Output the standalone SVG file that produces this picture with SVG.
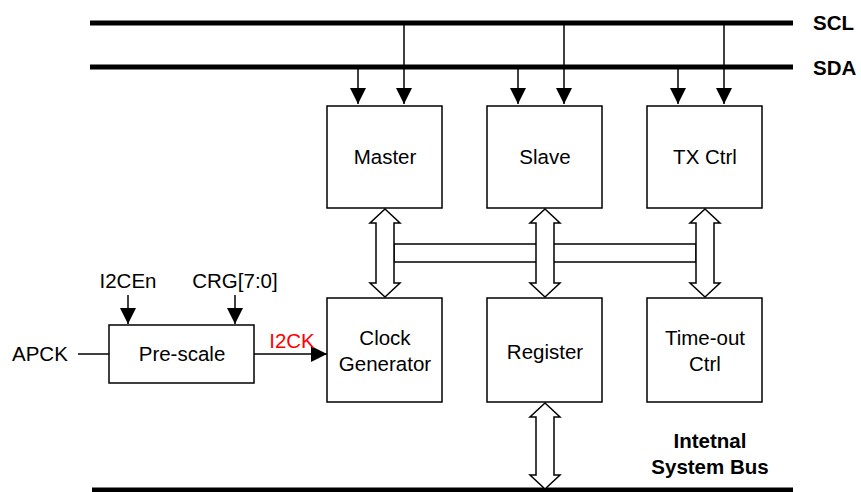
<svg xmlns="http://www.w3.org/2000/svg" width="861" height="492" viewBox="0 0 861 492">
<defs>
<marker id="ah" markerWidth="16" markerHeight="16" refX="16" refY="8" orient="auto" markerUnits="userSpaceOnUse"><path d="M0,0 L16,8 L0,16 Z" fill="#000"/></marker>
</defs>
<style>
.bus{stroke:#000;stroke-width:5;fill:none}
.box{fill:#fff;stroke:#000;stroke-width:1.5}
.ln{stroke:#000;stroke-width:1.5;fill:none}
.da{fill:#fff;stroke:#000;stroke-width:1.5;stroke-linejoin:miter}
text{font-family:"Liberation Sans",Arial,sans-serif;font-size:20.5px;fill:#000;text-anchor:middle}
.b{font-weight:bold}
.s{text-anchor:start}
</style>
<g id="buses">
<line class="bus" x1="90" y1="23" x2="793" y2="23"/>
<line class="bus" x1="90" y1="67" x2="793" y2="67"/>
<line class="bus" x1="92" y1="490" x2="793" y2="490" stroke-width="4"/>
<text class="b s" x="813" y="30">SCL</text>
<text class="b s" x="813" y="75">SDA</text>
<text class="b" x="710" y="448">Intetnal</text>
<text class="b" x="710" y="474">System Bus</text>
</g>
<g id="connectors">
<line class="ln" x1="358" y1="67" x2="358" y2="104" marker-end="url(#ah)"/>
<line class="ln" x1="404" y1="23" x2="404" y2="104" marker-end="url(#ah)"/>
<line class="ln" x1="518" y1="67" x2="518" y2="104" marker-end="url(#ah)"/>
<line class="ln" x1="564" y1="23" x2="564" y2="104" marker-end="url(#ah)"/>
<line class="ln" x1="678" y1="67" x2="678" y2="104" marker-end="url(#ah)"/>
<line class="ln" x1="724" y1="23" x2="724" y2="104" marker-end="url(#ah)"/>
<rect x="394" y="244" width="302" height="18" fill="#fff" stroke="#000" stroke-width="1.5"/>
<polygon class="da" points="385,209 400,223 394,223 394,283 400,283 385,297 370,283 376,283 376,223 370,223"/>
<polygon class="da" points="545,209 560,223 554,223 554,283 560,283 545,297 530,283 536,283 536,223 530,223"/>
<polygon class="da" points="705,209 720,223 714,223 714,283 720,283 705,297 690,283 696,283 696,223 690,223"/>
<polygon class="da" points="545,403 560,417 554,417 554,475 560,475 545,489 530,475 536,475 536,417 530,417"/>
<line class="ln" x1="78" y1="354" x2="109" y2="354"/>
<line class="ln" x1="128" y1="295" x2="128" y2="324" marker-end="url(#ah)"/>
<line class="ln" x1="235" y1="295" x2="235" y2="324" marker-end="url(#ah)"/>
<line class="ln" x1="254" y1="354" x2="327" y2="354" marker-end="url(#ah)"/>
<text class="s" x="12" y="361">APCK</text>
<text x="128" y="288">I2CEn</text>
<text x="235" y="288">CRG[7:0]</text>
<text x="292" y="348" style="fill:#f00">I2CK</text>
</g>
<g id="master"><rect class="box" x="327" y="106" width="115" height="102"/><text x="385" y="164">Master</text></g>
<g id="slave"><rect class="box" x="487" y="106" width="115" height="102"/><text x="545" y="164">Slave</text></g>
<g id="txctrl"><rect class="box" x="647" y="106" width="115" height="102"/><text x="705" y="164">TX Ctrl</text></g>
<g id="clockgen"><rect class="box" x="327" y="298" width="115" height="104"/><text x="385" y="345">Clock</text><text x="385" y="371">Generator</text></g>
<g id="register"><rect class="box" x="487" y="298" width="115" height="104"/><text x="545" y="359">Register</text></g>
<g id="timeout"><rect class="box" x="647" y="298" width="115" height="104"/><text x="705" y="345">Time-out</text><text x="705" y="371">Ctrl</text></g>
<g id="prescale"><rect class="box" x="109" y="325" width="145" height="58" stroke-width="3"/><text x="182" y="361">Pre-scale</text></g>
</svg>
